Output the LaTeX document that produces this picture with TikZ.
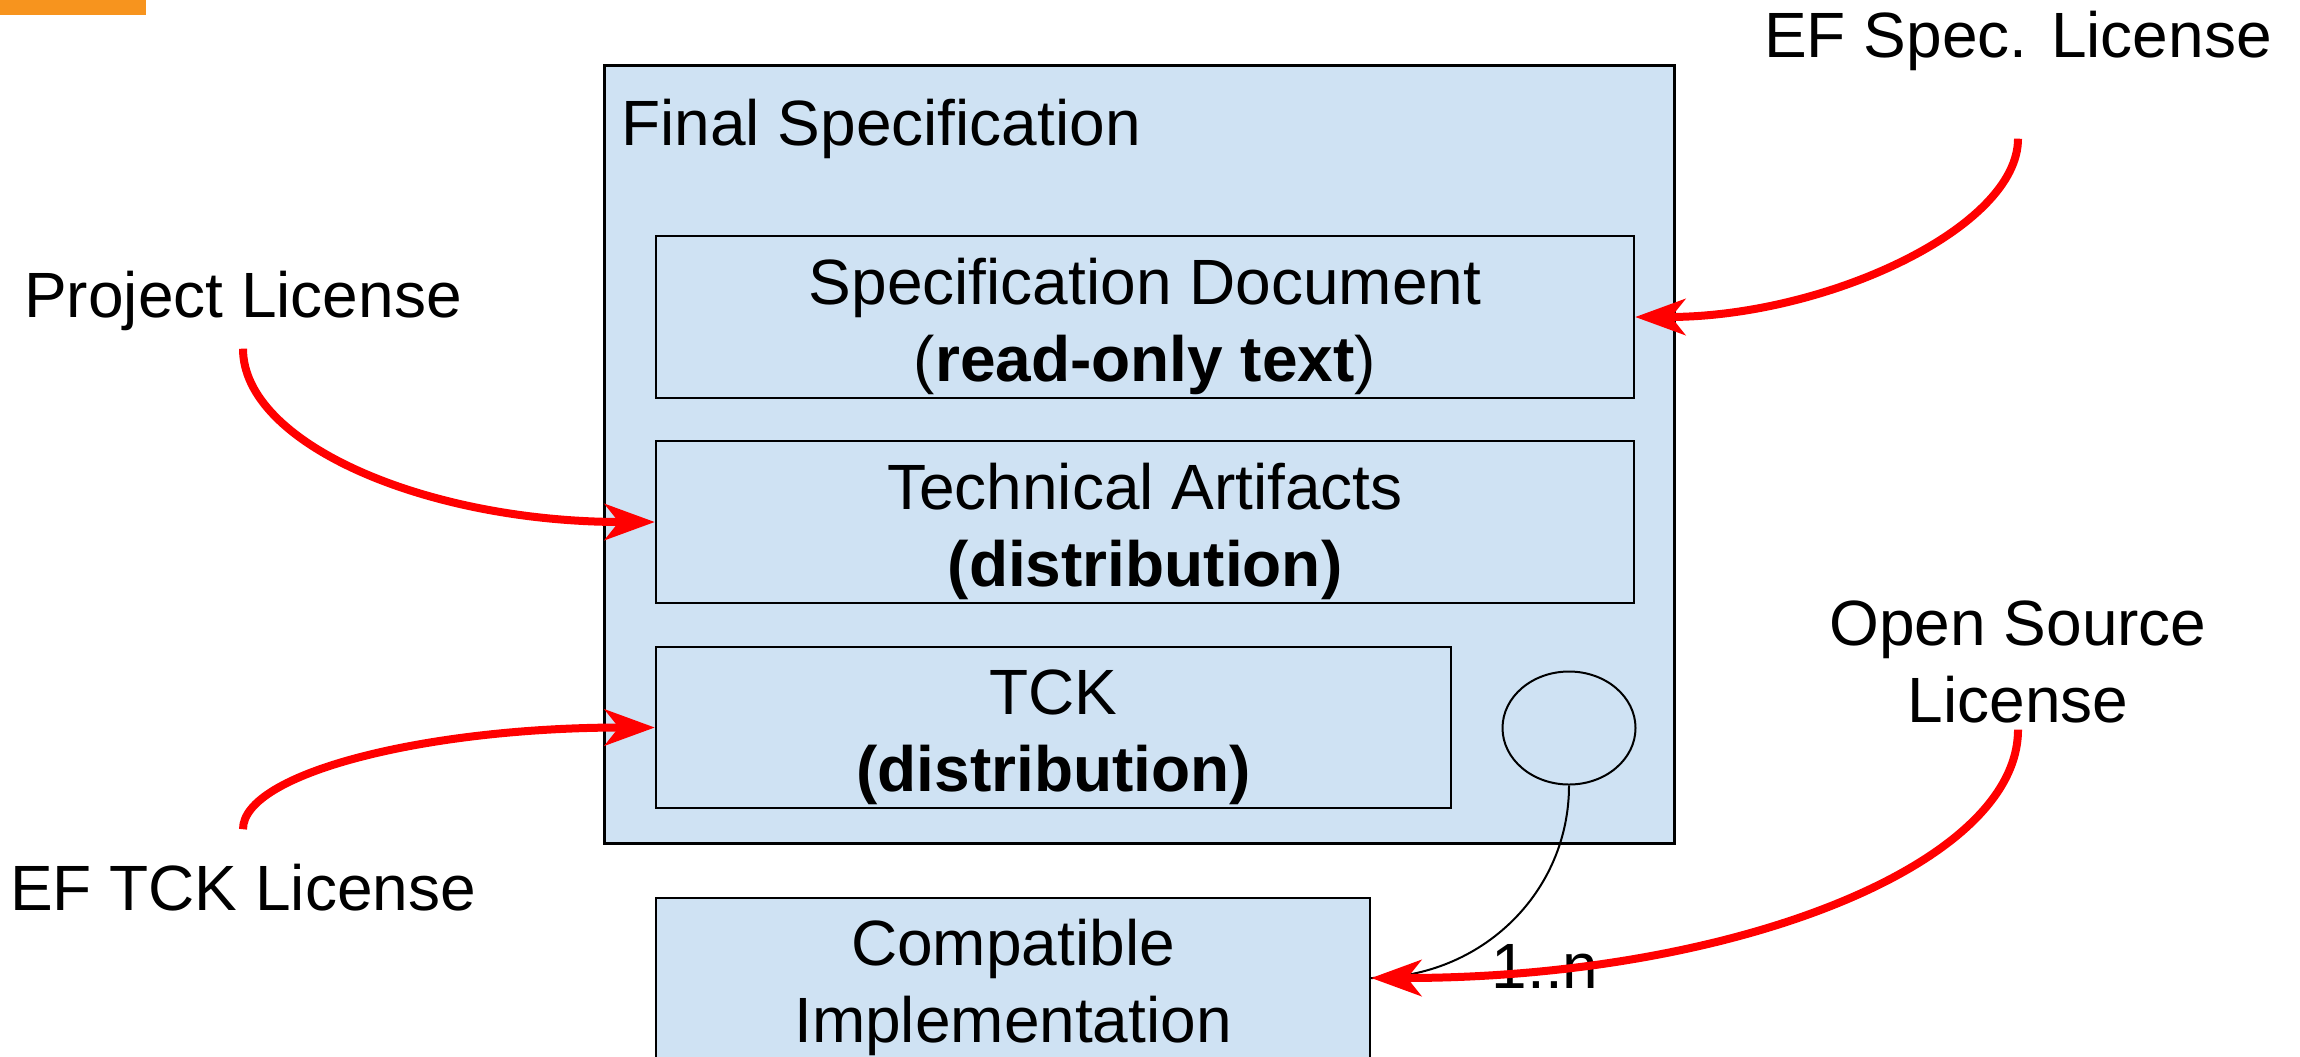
\documentclass[tikz,border=0pt]{standalone}
\usepackage{fontspec}
\setmainfont{Liberation Sans}
\usetikzlibrary{positioning}
\usetikzlibrary{arrows.meta}
\usetikzlibrary{shapes.geometric}
\definecolor{boxblue}{RGB}{207,226,243}
\definecolor{slideorange}{RGB}{247,148,30}
\newcommand{\topstrut}{\rule{0pt}{32.5pt}}
\tikzset{box/.style={draw, fill=boxblue, line width=1.2pt, inner sep=0pt, align=center}}
\tikzset{lic/.style={inner sep=0pt, align=center}}
\tikzset{redarr/.style={draw=red, line width=4pt, -{Stealth[length=25pt,width=18pt,inset=7pt]}}}

\begin{document}
\begin{tikzpicture}[x=0.5pt,y=-0.5pt,font=\fontsize{32}{38.5}\selectfont]
\useasboundingbox (0,0) rectangle (2300,1056);
\clip (0,0) rectangle (2300,1056);
\fill[slideorange] (0,0) rectangle (146,15);

% the specification and its parts
\node[box, line width=1.5pt, minimum width=535pt, minimum height=389pt] (finalspec) at (1139,454) {};
\node[anchor=base west, inner sep=0pt] (fstitle) at (621,145) {Final Specification};
\node[box, minimum width=489pt, minimum height=81pt] (specdoc) at (1145,317) {\topstrut Specification Document\\(\textbf{read-only text})};
\node[box, minimum width=489pt, minimum height=81pt] (techart) at (1145,522) {\topstrut Technical Artifacts\\\textbf{(distribution)}};
\node[box, minimum width=397.5pt, minimum height=80.5pt] (tck) at (1053.5,727.5) {\topstrut TCK\\\textbf{(distribution)}};
\node[draw, ellipse, fill=boxblue, line width=1pt, inner sep=0pt, minimum width=66.5pt, minimum height=56.5pt] (tckcirc) at (1569,728) {};
\node[box, minimum width=357pt, minimum height=80pt] (compat) at (1013,978) {\topstrut Compatible\\Implementation};

% licenses
\node[lic, anchor=base] (efspec) at (2018,57) {EF Spec. License};
\node[lic, anchor=base] (projlic) at (243,317) {Project License};
\node[lic, anchor=base] (eftck) at (243,910) {EF TCK License};
\node[lic] (oslic) at (2018,662) {Open Source\\License};
\node[lic, anchor=base] (onen) at (1545,988) {1..n};

\coordinate[below=34pt of efspec.south] (efspec-out);
\coordinate[below=9pt of projlic.south] (projlic-out);
\coordinate[above=17pt of eftck.north] (eftck-out);
\coordinate[below=3pt of oslic.south] (oslic-out);

\draw[line width=1pt] (tckcirc.south) .. controls +(0,107) and +(110,0) .. (compat.east);

\draw[redarr] (efspec-out) .. controls +(0,89) and +(191,0) .. (specdoc.east);
\draw[redarr] (projlic-out) .. controls +(0,95) and +(-229,0) .. (techart.west);
\draw[redarr] (eftck-out) .. controls +(0,-56) and +(-229,0) .. (tck.west);
\draw[redarr] (oslic-out) .. controls +(0,137) and +(358,0) .. (compat.east);
\end{tikzpicture}
\end{document}
